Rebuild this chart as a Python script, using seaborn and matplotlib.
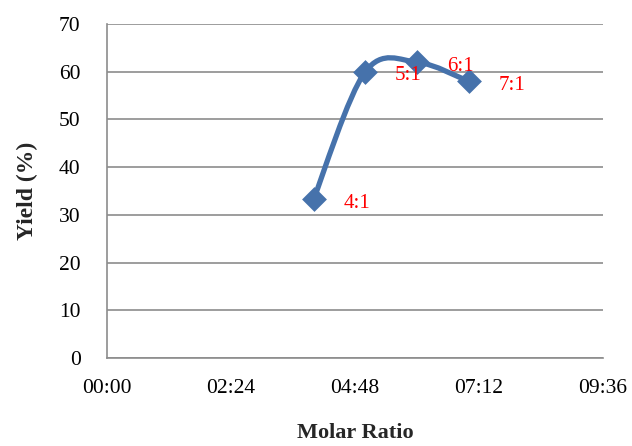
import numpy as np
import pandas as pd
import matplotlib
matplotlib.use("Agg")
import matplotlib.pyplot as plt
from matplotlib.path import Path
from matplotlib.patches import PathPatch
from matplotlib.ticker import FuncFormatter
import seaborn as sns

# data (x stored as hours, Excel showed it as a time axis)
ratios = ["4:1", "5:1", "6:1", "7:1"]
hours = [4, 5, 6, 7]
yields = [33.3, 60, 62, 58]
xticks = [0, 2.4, 4.8, 7.2, 9.6]

df = pd.DataFrame({"hours": hours, "yield": yields, "ratio": ratios})

sns.set_theme(style="white")
plt.rcParams["font.family"] = ["Liberation Serif", "DejaVu Serif"]

line_col = "#4672AB"
grid_col = "#8c8c8c"

fig = plt.figure(figsize=(6.32, 4.46), dpi=100)
ax = fig.add_axes([0.1693, 0.1973, 0.954 - 0.1693, 0.9462 - 0.1973])


def smooth_path(xs, ys):
    # Excel-style smoothed line: cubic bezier through the points
    pts = np.column_stack([xs, ys]).astype(float)
    n = len(pts)
    verts = [pts[0]]
    codes = [Path.MOVETO]
    for i in range(n - 1):
        p0 = pts[i - 1] if i > 0 else pts[i]
        p1 = pts[i]
        p2 = pts[i + 1]
        p3 = pts[i + 2] if i + 2 < n else pts[i + 1]
        c1 = p1 + (p2 - p0) / 6
        c2 = p2 - (p3 - p1) / 6
        verts += [c1, c2, p2]
        codes += [Path.CURVE4] * 3
    return Path(verts, codes)


ax.add_patch(PathPatch(smooth_path(df["hours"], df["yield"]), fill=False,
                       edgecolor=line_col, lw=3.8, capstyle="round", zorder=3))
sns.scatterplot(data=df, x="hours", y="yield", marker="D", s=160, color=line_col,
                edgecolor=line_col, linewidth=0, ax=ax, zorder=4, legend=False)

for _, r in df.iterrows():
    ax.annotate(r["ratio"], (r["hours"], r["yield"]), xytext=(31, -3),
                textcoords="offset points", color="red", fontsize=15,
                ha="center", va="center", zorder=5)

ax.set_xlim(0, 9.6)
ax.set_ylim(0, 70)
ax.set_xticks(xticks)
ax.set_yticks(range(0, 71, 10))
ax.xaxis.set_major_formatter(FuncFormatter(
    lambda v, p: "%02d:%02d" % (int(v), int(round((v - int(v)) * 60)))))
ax.yaxis.grid(True, color=grid_col, lw=1.2)
ax.xaxis.grid(False)
for s in ["top", "right"]:
    ax.spines[s].set_visible(False)
for s in ["left", "bottom"]:
    ax.spines[s].set_color(grid_col)
    ax.spines[s].set_linewidth(1.2)
ax.tick_params(axis="both", length=0, labelsize=15.5, colors="black")
ax.tick_params(axis="x", pad=15)
ax.tick_params(axis="y", pad=19)
ax.set_xlabel("Molar Ratio", fontsize=16, fontweight="bold", labelpad=18)
ax.set_ylabel("Yield (%)", fontsize=17, fontweight="bold", labelpad=15)

fig.savefig("out.png", dpi=100)
